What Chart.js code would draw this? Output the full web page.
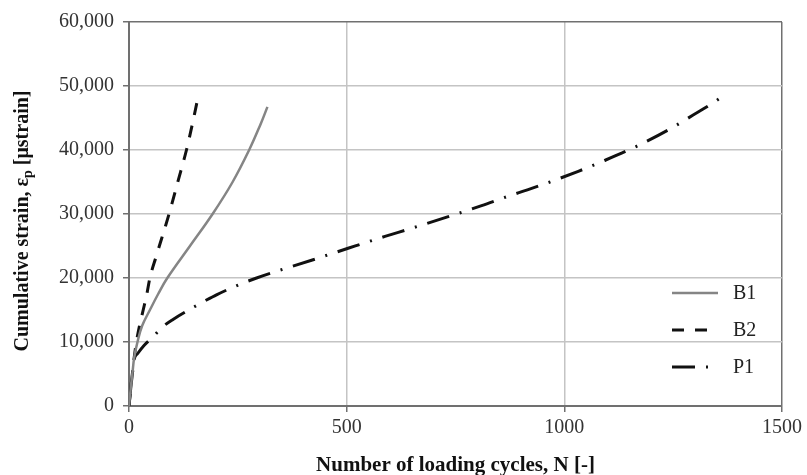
<!DOCTYPE html>
<html lang="en">
	<head>
		<meta charset="UTF-8" />
		<script src="https://cdn.jsdelivr.net/npm/chart.js@4.4.0/dist/chart.umd.min.js"></script>
		<style>
			html, body { margin: 0; padding: 0; background: #fff; }
			#wrap { width: 807px; height: 475px; }
		</style>
	</head>

	<body>
		<div id="wrap"><canvas id="strainChart" width="807" height="475"></canvas></div>

		<script>
			// cumulative permanent strain vs. loading cycles
			const b1Cycles = [0, 4, 8, 12, 19.5, 30, 48, 67, 88, 140, 192, 238, 276, 302, 318];
			const b1Strain = [0, 2800, 5200, 7600, 10000, 12500, 15000, 17500, 20000, 25000, 30000, 35000, 40000, 44000, 46740];

			const b2Cycles = [0, 4, 8, 12, 17, 24, 32.6, 41, 48, 63, 92, 112, 132, 147, 159];
			const b2Strain = [0, 2800, 5200, 7600, 10000, 12500, 15000, 17500, 20000, 23500, 30000, 35000, 40000, 44500, 48400];

			const p1Cycles = [0, 4, 8, 12, 20, 35, 56, 76, 102, 151, 176, 201, 243, 293, 423, 505, 588, 646, 728, 810, 868, 950, 1032, 1088, 1166, 1243, 1294, 1344, 1369];
			const p1Strain = [0, 2800, 5200, 7300, 8200, 9500, 10850, 12300, 13570, 15540, 16480, 17370, 18670, 20000, 22850, 24680, 26500, 27700, 29470, 31300, 32700, 34590, 36670, 38230, 40580, 43300, 45380, 47460, 48670];

			const xTicks = [0, 500, 1000, 1500];
			const yTicks = [0, 10000, 20000, 30000, 40000, 50000, 60000];

			const serif = "'Liberation Serif', 'Times New Roman', serif";

			function toPoints(xs, ys) {
				return xs.map((x, i) => ({ x: x, y: ys[i] }));
			}

			// legend drawn inside the plot, lower right
			const insideLegend = {
				id: 'insideLegend',
				afterDatasetsDraw(chart) {
					const ctx = chart.ctx;
					const area = chart.chartArea;
					ctx.save();
					ctx.font = '20px ' + serif;
					ctx.fillStyle = '#222';
					ctx.textBaseline = 'middle';
					chart.data.datasets.forEach((ds, i) => {
						const y = area.bottom - 113 + i * 37;
						ctx.beginPath();
						ctx.setLineDash(ds.borderDash || []);
						ctx.lineWidth = ds.borderWidth;
						ctx.strokeStyle = ds.borderColor;
						ctx.moveTo(area.right - 110, y);
						ctx.lineTo(area.right - 64, y);
						ctx.stroke();
						ctx.setLineDash([]);
						ctx.fillText(ds.label, area.right - 49, y + 1);
					});
					ctx.restore();
				},
			};

			// y title with subscript p
			const yTitle = {
				id: 'yTitle',
				afterDraw(chart) {
					const ctx = chart.ctx;
					const parts = [
						{ t: 'Cumulative strain, ε', f: 'bold 20px ' + serif, dy: 0 },
						{ t: 'p', f: 'bold 14px ' + serif, dy: 5 },
						{ t: ' [μstrain]', f: 'bold 20px ' + serif, dy: 0 },
					];
					let total = 0;
					parts.forEach((p) => {
						ctx.font = p.f;
						p.w = ctx.measureText(p.t).width;
						total += p.w;
					});
					ctx.save();
					ctx.translate(23, 221);
					ctx.rotate(-Math.PI / 2);
					ctx.fillStyle = '#111';
					ctx.textBaseline = 'middle';
					let x = -total / 2;
					parts.forEach((p) => {
						ctx.font = p.f;
						ctx.fillText(p.t, x, p.dy);
						x += p.w;
					});
					ctx.restore();
				},
			};

			const ctx = document.getElementById('strainChart').getContext('2d');
			const strainChart = new Chart(ctx, {
				type: 'line',
				data: {
					datasets: [
						{
							label: 'B1',
							data: toPoints(b1Cycles, b1Strain),
							borderColor: '#858585',
							borderWidth: 2.5,
							cubicInterpolationMode: 'default',
							tension: 0.4,
						},
						{
							label: 'B2',
							data: toPoints(b2Cycles, b2Strain),
							borderColor: '#111',
							borderWidth: 3,
							borderDash: [12, 11],
						},
						{
							label: 'P1',
							data: toPoints(p1Cycles, p1Strain),
							borderColor: '#111',
							borderWidth: 3,
							borderDash: [23, 11, 2, 11],
						},
					],
				},
				options: {
					responsive: false,
					animation: false,
					events: [],
					layout: { padding: { top: 22, right: 25, left: 0, bottom: 0 } },
					elements: {
						point: { radius: 0 },
						line: { cubicInterpolationMode: 'monotone', fill: false, borderCapStyle: 'butt' },
					},
					plugins: {
						legend: { display: false },
						tooltip: { enabled: false },
					},
					scales: {
						x: {
							type: 'linear',
							min: 0,
							max: 1500,
							afterBuildTicks: (scale) => {
								scale.ticks = xTicks.map((v) => ({ value: v }));
							},
							afterFit: (scale) => {
								scale.height = 69;
							},
							ticks: {
								font: { family: serif, size: 20 },
								color: '#333',
								padding: 4,
								maxRotation: 0,
								callback: (v) => String(v),
							},
							grid: {
								color: (c) => (c.tick && c.tick.value === 1500 ? '#707070' : '#c4c4c4'),
								lineWidth: 1.5,
								tickLength: 6,
								tickColor: '#707070',
							},
							border: { color: '#707070', width: 2 },
							title: {
								display: true,
								text: 'Number of loading cycles, N [-]',
								font: { family: serif, size: 21, weight: 'bold' },
								color: '#111',
								padding: { top: 0, bottom: -3 },
							},
						},
						y: {
							min: 0,
							max: 60000,
							afterBuildTicks: (scale) => {
								scale.ticks = yTicks.map((v) => ({ value: v }));
							},
							afterFit: (scale) => {
								scale.width = 129;
							},
							ticks: {
								font: { family: serif, size: 20 },
								color: '#333',
								padding: 9,
								callback: (v) => v.toLocaleString('en-US'),
							},
							grid: {
								color: (c) => (c.tick && c.tick.value === 60000 ? '#707070' : '#c4c4c4'),
								lineWidth: 1.5,
								tickLength: 6,
								tickColor: '#707070',
							},
							border: { color: '#707070', width: 2 },
						},
					},
				},
				plugins: [insideLegend, yTitle],
			});
		</script>
	</body>
</html>
